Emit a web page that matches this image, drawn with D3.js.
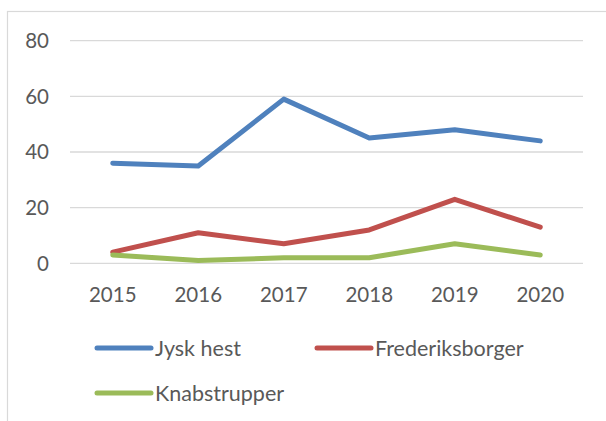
<!DOCTYPE html>
<html>
<head>
<meta charset="utf-8">
<script src="https://cdn.jsdelivr.net/npm/d3@7"></script>
<style>
  body { margin: 0; background: #fff; }
  text { font-family: Lato, "Open Sans", sans-serif; fill: #595959; }
</style>
</head>
<body>
<div id="wrapper"></div>
<script>
// data
var years = ["2015", "2016", "2017", "2018", "2019", "2020"];
var seriesNames = ["Jysk hest", "Frederiksborger", "Knabstrupper"];
var jyskHest = [36, 35, 59, 45, 48, 44];
var frederiksborger = [4, 11, 7, 12, 23, 13];
var knabstrupper = [3, 1, 2, 2, 7, 3];
var yTicks = [0, 20, 40, 60, 80];
var colors = ["#4f81bd", "#c0504d", "#9bbb59"];

var width = 606, height = 421;
var svg = d3.select("#wrapper").append("svg")
    .attr("width", width)
    .attr("height", height);

// chart frame
svg.append("rect")
    .attr("x", 7.5).attr("y", 11.5)
    .attr("width", 700).attr("height", 500)
    .attr("fill", "none")
    .attr("stroke", "#d9d9d9")
    .attr("stroke-width", 1.2);

var x = d3.scaleBand().domain(years).range([70, 583]);
var y = d3.scaleLinear().domain([0, 80]).range([263.3, 40.7]);

// gridlines
svg.append("g").selectAll("line")
    .data(yTicks)
    .enter().append("line")
    .attr("x1", 70).attr("x2", 583)
    .attr("y1", function(d){ return y(d); })
    .attr("y2", function(d){ return y(d); })
    .attr("stroke", "#d9d9d9")
    .attr("stroke-width", 1.3);

// y axis labels
svg.append("g").selectAll("text")
    .data(yTicks)
    .enter().append("text")
    .attr("x", 49)
    .attr("y", function(d){ return y(d); })
    .attr("dy", "0.36em")
    .attr("text-anchor", "end")
    .attr("font-size", 20.5)
    .text(function(d){ return d; });

// x axis labels
svg.append("g").selectAll("text")
    .data(years)
    .enter().append("text")
    .attr("x", function(d){ return x(d) + x.bandwidth() / 2; })
    .attr("y", 302)
    .attr("text-anchor", "middle")
    .attr("font-size", 20.5)
    .text(function(d){ return d; });

var allSeries = [jyskHest, frederiksborger, knabstrupper];
var line = d3.line()
    .x(function(d, i){ return x(years[i]) + x.bandwidth() / 2; })
    .y(function(d){ return y(d); });

svg.append("g").selectAll("path")
    .data(allSeries)
    .enter().append("path")
    .attr("d", line)
    .attr("fill", "none")
    .attr("stroke", function(d, i){ return colors[i]; })
    .attr("stroke-width", 5)
    .attr("stroke-linejoin", "round")
    .attr("stroke-linecap", "round");

// legend
var legendPos = [[97, 348], [317, 348], [97, 393]];
var legend = svg.append("g").selectAll("g")
    .data(seriesNames)
    .enter().append("g")
    .attr("transform", function(d, i){ return "translate(" + legendPos[i][0] + "," + legendPos[i][1] + ")"; });
legend.append("line")
    .attr("x1", 0).attr("x2", 54)
    .attr("stroke", function(d, i){ return colors[i]; })
    .attr("stroke-width", 5)
    .attr("stroke-linecap", "round");
legend.append("text")
    .attr("x", 58)
    .attr("dy", "0.36em")
    .attr("font-size", 21.5)
    .text(function(d){ return d; });
</script>
</body>
</html>
